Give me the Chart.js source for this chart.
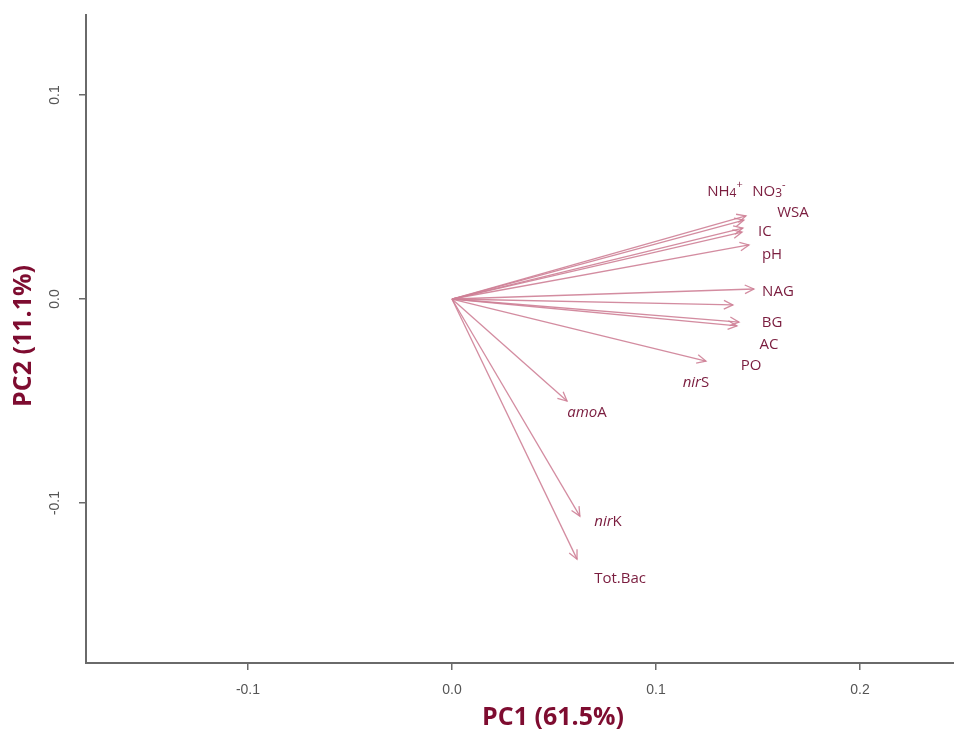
<!DOCTYPE html>
<html><head><meta charset="utf-8">
<script src="https://cdn.jsdelivr.net/npm/chart.js@4.4.0/dist/chart.umd.min.js"></script>
<style>html,body{margin:0;padding:0;background:#fff;}canvas{display:block;}</style>
</head><body>
<canvas id="c" width="954" height="731"></canvas>
<script>
// ---- data ----
const variables = ['NH4+','NO3-','WSA','IC','pH','NAG','PO','BG','AC','nirS','amoA','nirK','Tot.Bac'];
const pc1 = [0.1441,0.1431,0.1426,0.1422,0.1456,0.1480,0.1377,0.1407,0.1397,0.1245,0.0564,0.0627,0.0613];
const pc2 = [0.0407,0.0387,0.0348,0.0328,0.0265,0.0049,-0.0029,-0.0113,-0.0132,-0.0304,-0.0500,-0.1064,-0.1275];
const labelX = [0.1338,0.1554,0.1672,0.1534,0.1569,0.1598,0.1466,0.1569,0.1554,0.1196,0.0662,0.0765,0.0824];
const labelY = [0.0525,0.0525,0.0422,0.0328,0.0216,0.0034,-0.0328,-0.0118,-0.0225,-0.0412,-0.0559,-0.1093,-0.1373];
const xTicks = [-0.1, 0.0, 0.1, 0.2];
const xTickLabels = ['-0.1','0.0','0.1','0.2'];
const yTicks = [-0.1, 0.0, 0.1];
const yTickLabels = ['-0.1','0.0','0.1'];
const xRange = [-0.1794, 0.2461];
const yRange = [-0.1784, 0.1392];
const xTitle = 'PC1 (61.5%)';
const yTitle = 'PC2 (11.1%)';

// ---- styles ----
const arrowColor = 'rgba(206,128,150,0.9)';
const labelColor = '#7a1c3e';
const titleColor = '#7e0c30';
const axisColor = '#6a6a6a';
const tickTextColor = '#555555';
const labelFont = '"Open Sans", "Noto Sans", sans-serif';

const richParts = {
  'NH4+': [['NH','n'],['4','sub'],['+','sup']],
  'NO3-': [['NO','n'],['3','sub'],['-','sup']],
  'nirS': [['nir','i'],['S','n']],
  'amoA': [['amo','i'],['A','n']],
  'nirK': [['nir','i'],['K','n']]
};

function partFont(style){
  if (style === 'i') return 'italic 15px ' + labelFont;
  if (style === 'sub') return '12px ' + labelFont;
  if (style === 'sup') return '11px ' + labelFont;
  return '15px ' + labelFont;
}
function partShift(style){
  if (style === 'sub') return 2;
  if (style === 'sup') return -7;
  return 0;
}

const biplotPlugin = {
  id: 'biplot',
  afterDatasetsDraw(chart){
    const ctx = chart.ctx;
    const xs = chart.scales.x, ys = chart.scales.y;
    ctx.save();
    ctx.strokeStyle = arrowColor;
    ctx.lineWidth = 1.3;
    chart.data.datasets.forEach((ds, i) => {
      const meta = chart.getDatasetMeta(i);
      const p0 = meta.data[0], p1 = meta.data[1];
      const ang = Math.atan2(p1.y - p0.y, p1.x - p0.x);
      const L = 10, a = Math.PI / 7;
      ctx.beginPath();
      ctx.moveTo(p1.x - L * Math.cos(ang - a), p1.y - L * Math.sin(ang - a));
      ctx.lineTo(p1.x, p1.y);
      ctx.lineTo(p1.x - L * Math.cos(ang + a), p1.y - L * Math.sin(ang + a));
      ctx.stroke();
    });
    ctx.fillStyle = labelColor;
    ctx.textBaseline = 'middle';
    ctx.textAlign = 'left';
    variables.forEach((name, i) => {
      const parts = richParts[name] || [[name, 'n']];
      let w = 0;
      parts.forEach(p => { ctx.font = partFont(p[1]); w += ctx.measureText(p[0]).width; });
      let x = xs.getPixelForValue(labelX[i]) - w / 2;
      const y = ys.getPixelForValue(labelY[i]);
      parts.forEach(p => {
        ctx.font = partFont(p[1]);
        ctx.fillText(p[0], x, y + partShift(p[1]));
        x += ctx.measureText(p[0]).width;
      });
    });
    ctx.restore();
  },
  afterDraw(chart){
    const ctx = chart.ctx;
    const xs = chart.scales.x, ys = chart.scales.y;
    const area = chart.chartArea;
    ctx.save();
    ctx.fillStyle = tickTextColor;
    ctx.font = '14px "Liberation Sans Narrow", "Liberation Sans", sans-serif';
    ctx.textAlign = 'center';
    ctx.textBaseline = 'middle';
    xTicks.forEach((v, i) => {
      ctx.fillText(xTickLabels[i], xs.getPixelForValue(v), area.bottom + 27);
    });
    yTicks.forEach((v, i) => {
      ctx.save();
      ctx.translate(area.left - 31, ys.getPixelForValue(v));
      ctx.rotate(-Math.PI / 2);
      ctx.fillText(yTickLabels[i], 0, 0);
      ctx.restore();
    });
    ctx.fillStyle = titleColor;
    ctx.font = 'bold 25px "Open Sans", "Noto Sans", sans-serif';
    ctx.fillText(xTitle, 553, area.bottom + 55);
    ctx.save();
    ctx.translate(24, 336);
    ctx.rotate(-Math.PI / 2);
    ctx.fillText(yTitle, 0, 0);
    ctx.restore();
    ctx.restore();
  }
};

const datasets = variables.map((name, i) => ({
  label: name,
  data: [{x: 0, y: 0}, {x: pc1[i], y: pc2[i]}],
  showLine: true,
  borderColor: arrowColor,
  borderWidth: 1.3,
  pointRadius: 0,
  pointHoverRadius: 0,
  fill: false
}));

function axisCommon(ticks){
  return {
    type: 'linear',
    afterBuildTicks: s => { s.ticks = ticks.map(v => ({value: v})); },
    ticks: {display: false},
    grid: {drawOnChartArea: false, drawTicks: true, tickLength: 7, color: axisColor, lineWidth: 1.5},
    border: {display: true, color: axisColor, width: 2}
  };
}

new Chart(document.getElementById('c'), {
  type: 'scatter',
  data: {datasets},
  options: {
    responsive: false,
    animation: false,
    layout: {padding: {top: 15, left: 0, right: 0, bottom: 0}},
    plugins: {legend: {display: false}, tooltip: {enabled: false}},
    scales: {
      x: Object.assign(axisCommon(xTicks), {min: xRange[0], max: xRange[1], afterFit: s => { s.height = 68; }}),
      y: Object.assign(axisCommon(yTicks), {min: yRange[0], max: yRange[1], afterFit: s => { s.width = 86; }})
    }
  },
  plugins: [biplotPlugin]
});
</script>
</body></html>
